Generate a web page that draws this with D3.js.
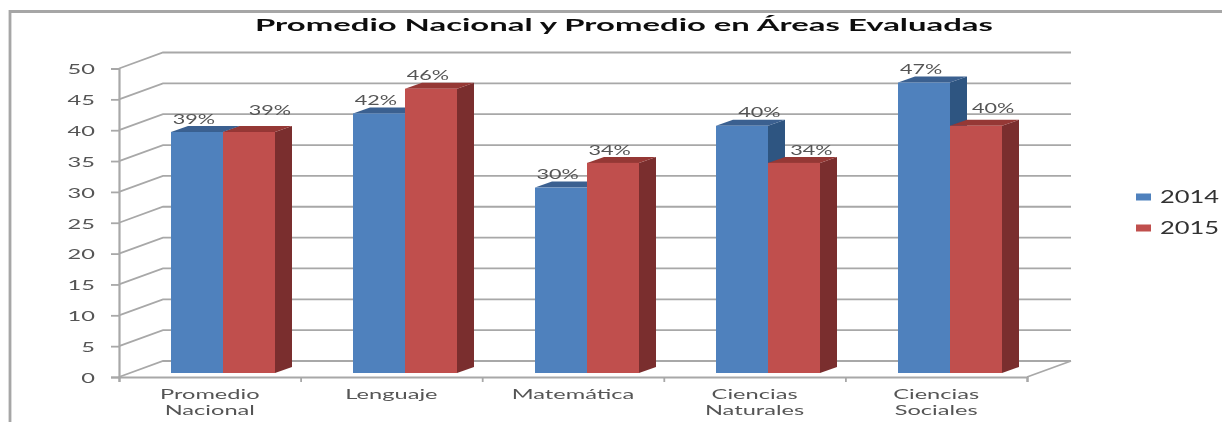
<!DOCTYPE html>
<meta charset="utf-8">
<html>
<head>
<script src="https://d3js.org/d3.v7.min.js"></script>
<style>
  html, body { margin: 0; background: #fff; }
  svg { display: block; }
  text { font-family: Lato, "Liberation Sans", sans-serif; }
</style>
</head>
<body>
<script>
// values
var categories = [["Promedio", "Nacional"], ["Lenguaje"], ["Matemática"], ["Ciencias", "Naturales"], ["Ciencias", "Sociales"]];
var years = ["2014", "2015"];
var values2014 = [39, 42, 30, 40, 47];
var values2015 = [39, 46, 34, 34, 40];
var yTicks = [0, 5, 10, 15, 20, 25, 30, 35, 40, 45, 50];
var titleText = "Promedio Nacional y Promedio en Áreas Evaluadas";

var width = 1222, height = 422;
var blue = { front: "#4f81bd", side: "#2f5481", top: "#3a6090" },
    red = { front: "#c0504d", side: "#7a2f2e", top: "#953735" };
var gridColor = "#a8a8a8", textColor = "#555555";

// depth of the floor and of the bars
var floorDx = 44, floorDy = -16, barDx = 17, barDy = -6;

var svg = d3.select("body").append("svg")
    .attr("width", width)
    .attr("height", height);

svg.append("defs").append("filter")
    .attr("id", "soft")
    .attr("x", 0).attr("y", 0).attr("width", 1).attr("height", 1)
    .append("feGaussianBlur").attr("stdDeviation", 0.55);

var g = svg.append("g").attr("filter", "url(#soft)");
g.append("rect").attr("width", width).attr("height", height).attr("fill", "#fff");

// frame of the chart
g.append("path")
    .attr("d", d3.line()([[10, height], [10, 11.5], [width, 11.5]]))
    .attr("fill", "none").attr("stroke", "#a6a6a6").attr("stroke-width", 2.8);

var x = d3.scaleBand().domain(d3.range(categories.length)).range([119, 1027]);
// bar groups run on a slightly wider step than the axis, as in the original
var barX = d3.scaleBand().domain(d3.range(categories.length)).range([171, 1080]);
var y = d3.scaleLinear().domain([0, 50]).range([377, 68.5]);
// bars stand a little in front of the back wall, on their own baseline
var barY = d3.scaleLinear().domain([0, 50]).range([373, 64]);
var series = d3.scaleBand().domain(years).range([0, 104]);

// gridlines on both walls
var grid = g.append("g").attr("fill", "none").attr("stroke", gridColor).attr("stroke-width", 1.8);
yTicks.forEach(function(t) {
  grid.append("path").attr("d", d3.line()([
    [x.range()[0], y(t)],
    [x.range()[0] + floorDx, y(t) + floorDy],
    [x.range()[1] + floorDx, y(t) + floorDy]
  ]));
});
grid.append("path").attr("d", d3.line()([
  [x.range()[1], y(0)],
  [x.range()[1] + floorDx, y(0) + floorDy]
]));

// axes
var yAxis = g.append("g")
    .attr("transform", "translate(" + x.range()[0] + ",0)")
    .call(d3.axisLeft(y).tickValues(yTicks).tickSize(8).tickPadding(0));
yAxis.selectAll("text")
    .attr("x", null).attr("dy", null)
    .attr("dominant-baseline", "central")
    .attr("transform", "translate(-24,0) scale(1.75,1)")
    .attr("fill", textColor).style("font-size", "13.5px");

var xAxis = g.append("g")
    .attr("transform", "translate(0," + y(0) + ")")
    .call(d3.axisBottom(d3.scaleLinear().domain(x.range()).range(x.range()))
      .tickValues(d3.range(categories.length + 1).map(function(i) { return x.range()[0] + i * x.bandwidth(); }))
      .tickSize(5).tickFormat(""));
g.selectAll(".domain").attr("stroke", gridColor).attr("stroke-width", 2.2);
g.selectAll(".tick line").attr("stroke", gridColor).attr("stroke-width", 1.8);

// category labels
categories.forEach(function(lines, i) {
  lines.forEach(function(line, j) {
    g.append("text")
      .attr("text-anchor", "middle")
      .attr("transform", "translate(" + (x(i) + x.bandwidth() / 2) + "," + (y(0) + 22 + j * 15.5) + ") scale(1.75,1)")
      .attr("fill", textColor)
      .style("font-size", "13.5px")
      .text(line);
  });
});

// bars
function drawBar(i, year, value, col) {
  var x0 = Math.round(barX(i)) + series(year), w = series.bandwidth(),
      y0 = barY(0), y1 = barY(value);
  var bar = g.append("g");
  bar.append("path").attr("fill", col.side).attr("d", d3.line()([
    [x0 + w, y1], [x0 + w + barDx, y1 + barDy], [x0 + w + barDx, y0 + barDy], [x0 + w, y0]
  ]));
  bar.append("path").attr("fill", col.top).attr("d", d3.line()([
    [x0, y1], [x0 + barDx, y1 + barDy], [x0 + w + barDx, y1 + barDy], [x0 + w, y1]
  ]));
  bar.append("rect").attr("x", x0).attr("y", y1).attr("width", w).attr("height", y0 - y1).attr("fill", col.front);
}
categories.forEach(function(c, i) {
  drawBar(i, "2014", values2014[i], blue);
  drawBar(i, "2015", values2015[i], red);
});

// data labels, sitting just over each bar with a few hand moves like the original
var labelMoves = {
  "0-2015": [21, -9],
  "3-2014": [17, -1],
  "3-2015": [17, 0],
  "4-2015": [17, -5]
};
function drawLabel(i, year, value) {
  var move = labelMoves[i + "-" + year] || [-3, 0];
  var cx = barX(i) + series(year) + series.bandwidth() / 2 + move[0];
  g.append("text")
    .attr("text-anchor", "middle")
    .attr("dominant-baseline", "central")
    .attr("transform", "translate(" + cx + "," + (barY(value) - 13.5 + move[1]) + ") scale(1.6,1)")
    .attr("fill", textColor)
    .style("font-size", "13.5px")
    .text(value + "%");
}
categories.forEach(function(c, i) {
  drawLabel(i, "2014", values2014[i]);
  drawLabel(i, "2015", values2015[i]);
});

// title
g.append("text")
    .attr("x", 624).attr("y", 31)
    .attr("text-anchor", "middle")
    .attr("textLength", 738)
    .attr("lengthAdjust", "spacingAndGlyphs")
    .attr("fill", "#111")
    .style("font-size", "17.5px")
    .style("font-weight", "bold")
    .text(titleText);

// legend
var legendY = d3.scalePoint().domain(years).range([197, 228]);
years.forEach(function(year) {
  g.append("rect")
    .attr("x", 1136).attr("y", legendY(year) - 3.5)
    .attr("width", 15).attr("height", 7)
    .attr("fill", year === "2014" ? blue.front : red.front);
  g.append("text")
    .attr("dominant-baseline", "central")
    .attr("transform", "translate(1160," + legendY(year) + ") scale(1.5,1)")
    .attr("fill", "#333")
    .style("font-size", "17px")
    .text(year);
});
</script>
</body>
</html>
